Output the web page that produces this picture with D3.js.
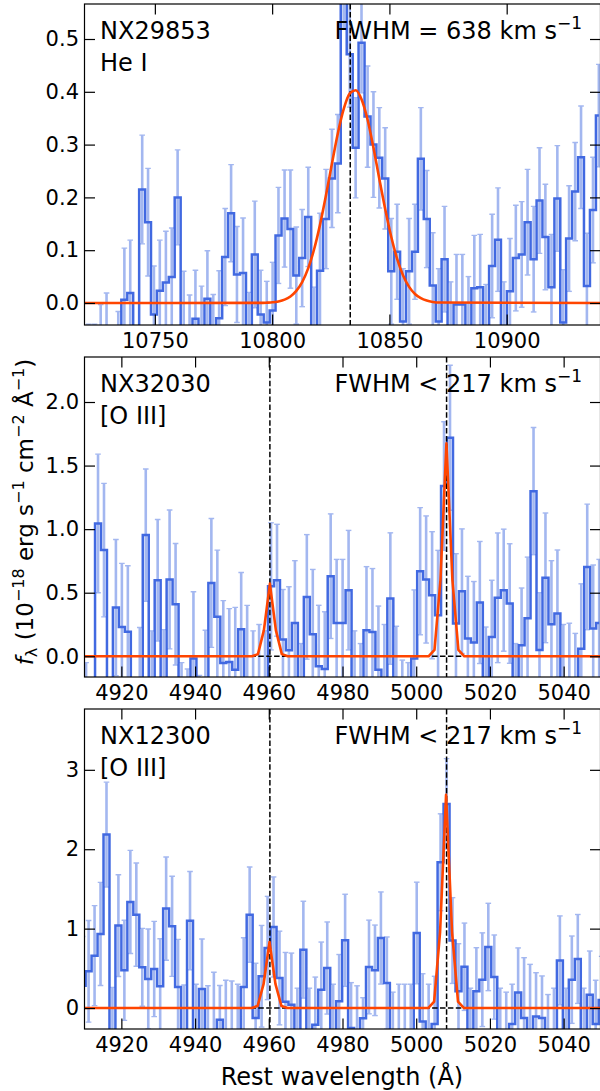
<!DOCTYPE html>
<html>
<head>
<meta charset="utf-8">
<title>spectra</title>
<script src="https://d3js.org/d3.v7.min.js"></script>
<style>
  body { margin: 0; background: #fff; }
  text { font-family: "DejaVu Sans", sans-serif; }
</style>
</head>
<body>
<svg width="600" height="1091" id="mainsvg"></svg>
<script>
// ---------- panel 1 : NX29853, He I ----------
const p1Wave = [
  10721.8, 10724.3, 10726.9, 10729.4, 10731.9, 10734.4, 10737.0, 10739.5, 10742.0, 10744.6,
  10747.1, 10749.6, 10752.1, 10754.7, 10757.2, 10759.7, 10762.3, 10764.8, 10767.3, 10769.9,
  10772.4, 10774.9, 10777.4, 10780.0, 10782.5, 10785.0, 10787.6, 10790.1, 10792.6, 10795.1,
  10797.7, 10800.2, 10802.7, 10805.3, 10807.8, 10810.3, 10812.8, 10815.4, 10817.9, 10820.4,
  10823.0, 10825.5, 10828.0, 10830.5, 10833.1, 10835.6, 10838.1, 10840.7, 10843.2, 10845.7,
  10848.2, 10850.8, 10853.3, 10855.8, 10858.4, 10860.9, 10863.4, 10865.9, 10868.5, 10871.0,
  10873.5, 10876.1, 10878.6, 10881.1, 10883.7, 10886.2, 10888.7, 10891.2, 10893.8, 10896.3,
  10898.8, 10901.4, 10903.9, 10906.4, 10908.9, 10911.5, 10914.0, 10916.5, 10919.1, 10921.6,
  10924.1, 10926.6, 10929.2, 10931.7, 10934.2, 10936.8, 10939.3];
const p1Flux = [
  -0.07, -0.07, -0.05, -0.05, -0.08, -0.06, 0.006, 0.019, -0.10, 0.215,
  0.153, -0.022, 0.023, 0.039, 0.049, 0.200, -0.05, -0.06, -0.030, -0.06,
  0.008, -0.07, -0.029, 0.087, 0.170, 0.054, 0.057, -0.06, 0.092, -0.022,
  -0.037, -0.014, 0.128, 0.160, 0.140, 0.052, 0.085, 0.163, -0.05, 0.061,
  0.159, 0.236, 0.264, 0.62, 0.471, 0.294, 0.493, 0.353, 0.300, 0.275,
  0.236, 0.060, 0.097, -0.035, 0.060, 0.097, 0.273, 0.159, 0.033, -0.035,
  0.083, -0.06, -0.003, -0.003, -0.05, 0.028, 0.030, -0.06, 0.070, 0.120,
  -0.06, 0.022, 0.085, 0.092, 0.153, 0.083, 0.194, 0.125, 0.030, 0.198,
  -0.037, 0.122, 0.211, 0.276, 0.032, 0.176, 0.355];
const p1Err = [
  0.03, 0.03, 0.047, 0.069, 0.03, 0.044, 0.098, 0.1, 0.05, 0.103,
  0.102, 0.092, 0.096, 0.097, 0.093, 0.09, 0.11, 0.075, 0.092, 0.092,
  0.091, 0.086, 0.09, 0.092, 0.092, 0.091, 0.104, 0.08, 0.101, 0.084,
  0.078, 0.091, 0.091, 0.092, 0.112, 0.092, 0.092, 0.094, 0.08, 0.109,
  0.094, 0.093, 0.093, 0.1, 0.1, 0.095, 0.095, 0.096, 0.1, 0.095,
  0.096, 0.1, 0.09, 0.1, 0.1, 0.09, 0.097, 0.092, 0.1, 0.1,
  0.1, 0.1, 0.095, 0.095, 0.1, 0.1, 0.1, 0.095, 0.098, 0.098,
  0.1, 0.1, 0.1, 0.1, 0.1, 0.1, 0.1, 0.1, 0.1, 0.1,
  0.1, 0.1, 0.093, 0.097, 0.1, 0.1, 0.097];
const p1ModelWave = [10720, 10795.1, 10797.7, 10800.2, 10802.7, 10805.3, 10807.8, 10810.3,
  10812.8, 10815.4, 10817.9, 10820.4, 10823.0, 10825.5, 10828.0, 10830.5, 10833.1, 10835.6,
  10838.1, 10840.7, 10843.2, 10845.7, 10848.2, 10850.8, 10853.3, 10855.8, 10858.4, 10860.9,
  10863.4, 10865.9, 10868.5, 10871.0, 10940];
const p1ModelFlux = [0, 0.0002, 0.0006, 0.0013, 0.003, 0.0063, 0.0124, 0.0228,
  0.0396, 0.0661, 0.1018, 0.148, 0.205, 0.264, 0.321, 0.367, 0.397, 0.403,
  0.386, 0.347, 0.294, 0.235, 0.178, 0.125, 0.0834, 0.0527, 0.0306, 0.0171,
  0.009, 0.0045, 0.002, 0.0009, 0];
const p1LineWave = [10833.3];
const p1XTicks = [10750, 10800, 10850, 10900];
const p1YTicks = [0, 0.1, 0.2, 0.3, 0.4, 0.5];

// ---------- panel 2 : NX32030, [O III] ----------
const p2Wave = [
  4910.43, 4912.05, 4913.67, 4915.29, 4916.90, 4918.52, 4920.14, 4921.76, 4923.38, 4925.00,
  4926.62, 4928.23, 4929.85, 4931.47, 4933.09, 4934.71, 4936.33, 4937.95, 4939.56, 4941.18,
  4942.80, 4944.42, 4946.04, 4947.66, 4949.28, 4950.90, 4952.51, 4954.13, 4955.75, 4957.37,
  4958.99, 4960.61, 4962.23, 4963.84, 4965.46, 4967.08, 4968.70, 4970.32, 4971.94, 4973.56,
  4975.18, 4976.79, 4978.41, 4980.03, 4981.65, 4983.27, 4984.89, 4986.51, 4988.13, 4989.74,
  4991.36, 4992.98, 4994.60, 4996.22, 4997.84, 4999.46, 5001.07, 5002.69, 5004.31, 5005.93,
  5007.55, 5009.17, 5010.79, 5012.41, 5014.02, 5015.64, 5017.26, 5018.88, 5020.50, 5022.12,
  5023.74, 5025.36, 5026.97, 5028.59, 5030.21, 5031.83, 5033.45, 5035.07, 5036.69, 5038.31,
  5039.92, 5041.54, 5043.16, 5044.78, 5046.40, 5048.02, 5049.64];
const p2Flux = [
  -0.2, -0.3, 1.045, 0.835, -0.35, 0.383, 0.231, 0.192, -0.35, -0.25,
  0.953, -0.3, 0.598, -0.3, 0.604, 0.409, -0.3, -0.3, -0.018, -0.3,
  -0.25, 0.577, 0.31, -0.052, -0.045, -0.105, 0.213, -0.2, -0.2, -0.2,
  -0.2, 0.55, 0.598, 0.131, 0.047, 0.262, -0.2, 0.467, 0.173, -0.079,
  -0.1, 0.63, 0.262, 0.262, 0.52, -0.2, -0.2, 0.205, 0.19, -0.105,
  -0.2, 0.454, -0.3, -0.3, -0.25, -0.018, 0.669, 0.604, 0.48, 0.323,
  1.339, 1.719, 0.257, 0.512, 0.139, 0.108, 0.423, -0.17, 0.152, 0.46,
  0.52, 0.415, -0.2, 0.087, 0.3, 1.299, 0.05, 0.617, 0.252, 0.336,
  -0.2, -0.2, -0.2, 0.06, 0.703, 0.218, 0.262];
const p2Err = [
  0.15, 0.1, 0.545, 0.525, 0.15, 0.536, 0.5, 0.52, 0.15, 0.476,
  0.52, 0.5, 0.478, 0.51, 0.546, 0.478, 0.25, 0.2, 0.525, 0.15,
  0.455, 0.507, 0.525, 0.49, 0.42, 0.49, 0.446, 0.6, 0.4, 0.45,
  0.4, 0.5, 0.44, 0.394, 0.5, 0.49, 0.3, 0.49, 0.51, 0.48,
  0.45, 0.49, 0.5, 0.5, 0.47, 0.4, 0.3, 0.5, 0.5, 0.5,
  0.45, 0.517, 0.536, 0.27, 0.2, 0.54, 0.5, 0.5, 0.5, 0.51,
  0.506, 0.57, 0.55, 0.49, 0.49, 0.48, 0.48, 0.4, 0.446, 0.51,
  0.48, 0.47, 0.3, 0.45, 0.48, 0.5, 0.45, 0.51, 0.5, 0.5,
  0.45, 0.46, 0.38, 0.51, 0.494, 0.5, 0.5];
const p2ModelWave = [4910, 4955.44, 4957.06, 4958.68, 4960.3, 4961.92, 4963.54, 4965.16,
  5003.34, 5004.96, 5006.58, 5008.2, 5009.82, 5011.44, 5013.06, 5050];
const p2ModelFlux = [0, 0, 0.017, 0.206, 0.572, 0.206, 0.017, 0,
  0, 0.05, 0.6, 1.675, 0.6, 0.05, 0, 0];
const p2YTicks = [0, 0.5, 1.0, 1.5, 2.0];

// ---------- panel 3 : NX12300, [O III] ----------
const p3Wave = [
  4909.49, 4911.11, 4912.73, 4914.35, 4915.97, 4917.58, 4919.20, 4920.82, 4922.44, 4924.06,
  4925.68, 4927.30, 4928.91, 4930.53, 4932.15, 4933.77, 4935.39, 4937.01, 4938.63, 4940.25,
  4941.86, 4943.48, 4945.10, 4946.72, 4948.34, 4949.96, 4951.58, 4953.19, 4954.81, 4956.43,
  4958.05, 4959.67, 4961.29, 4962.91, 4964.53, 4966.14, 4967.76, 4969.38, 4971.00, 4972.62,
  4974.24, 4975.86, 4977.47, 4979.09, 4980.71, 4982.33, 4983.95, 4985.57, 4987.19, 4988.81,
  4990.42, 4992.04, 4993.66, 4995.28, 4996.90, 4998.52, 5000.14, 5001.75, 5003.37, 5004.99,
  5006.61, 5008.23, 5009.85, 5011.47, 5013.09, 5014.70, 5016.32, 5017.94, 5019.56, 5021.18,
  5022.80, 5024.42, 5026.03, 5027.65, 5029.27, 5030.89, 5032.51, 5034.13, 5035.75, 5037.37,
  5038.98, 5040.60, 5042.22, 5043.84, 5045.46, 5047.08, 5048.69, 5050.31];
const p3Flux = [
  0.28, 0.462, 0.66, 0.933, 2.185, -0.35, 1.038, 0.475, 1.336, 1.176,
  0.513, 0.366, 0.492, 0.273, 1.252, 1.029, 0.265, -0.3, 1.10, -0.3,
  0.24, -0.35, -0.3, -0.147, -0.3, -0.3, -0.3, 0.265, 1.176, -0.126,
  0.4, 0.756, 1.021, 0.378, 0.08, 0.042, -0.3, 0.735, -0.3, -0.21,
  0.231, 0.504, -0.3, 0.084, 0.853, -0.25, -0.3, -0.13, 0.517, 0.475,
  0.882, 0.315, -0.35, -0.3, -0.3, -0.3, 0.945, -0.168, -0.3, -0.2,
  1.836, 2.571, 0.85, 0.21, 0.52, -0.3, 0.21, 0.357, 0.769, 0.39,
  -0.3, -0.3, -0.2, 0.197, -0.126, -0.3, -0.105, -0.126, -0.3, -0.3,
  0.6, -0.3, 0.357, 0.618, -0.3, 0.168, -0.2, 0.1];
const p3Err = [
  0.62, 0.64, 0.63, 0.65, 0.66, 0.61, 0.64, 0.63, 0.65, 0.65,
  0.49, 0.63, 0.6, 0.6, 0.65, 0.63, 0.6, 0.59, 0.62, 0.6,
  0.63, 0.63, 0.75, 0.43, 0.65, 0.64, 0.6, 0.62, 0.6, 0.69,
  0.64, 0.65, 0.63, 0.59, 0.62, 0.65, 0.55, 0.61, 0.55, 0.6,
  0.6, 0.58, 0.6, 0.59, 0.58, 0.57, 0.58, 0.26, 0.59, 0.57,
  0.58, 0.58, 0.55, 0.6, 0.6, 0.6, 0.64, 0.6, 0.6, 0.6,
  0.61, 0.57, 0.54, 0.6, 0.55, 0.55, 0.55, 0.59, 0.55, 0.53,
  0.55, 0.5, 0.5, 0.56, 0.76, 0.85, 0.55, 0.53, 0.47, 0.55,
  0.56, 0.55, 0.55, 0.56, 0.55, 0.55, 0.55, 0.55];
const p3ModelWave = [4910, 4955.34, 4956.96, 4958.58, 4960.2, 4961.82, 4963.44, 4965.06,
  5003.24, 5004.86, 5006.48, 5008.1, 5009.72, 5011.34, 5012.96, 5050];
const p3ModelFlux = [0, 0, 0.025, 0.3, 0.832, 0.3, 0.025, 0,
  0, 0.08, 0.96, 2.686, 0.96, 0.08, 0, 0];
const p3YTicks = [0, 1, 2, 3];

const oiiiLineWave = [4960.3, 5008.24];
const oiiiXTicks = [4920, 4940, 4960, 4980, 5000, 5020, 5040];

// ---------- layout ----------
let svg = d3.select('#mainsvg');
const xL = 84.5, xR = 600.5;
const stepColor = '#4169e1', errColor = '#a3b7f0', modelColor = '#ff4500';

const panels = [
  { top: 4, bottom: 325, xdom: [10720, 10940], ydom: [-0.0417, 0.5663],
    wave: p1Wave, flux: p1Flux, err: p1Err, mw: p1ModelWave, mf: p1ModelFlux,
    lines: p1LineWave, xt: p1XTicks, yt: p1YTicks, yfmt: d3.format('.1f'), smooth: true, zero: false,
    name: 'NX29853', ion: 'He I', fwhm: 'FWHM = 638 km s' },
  { top: 357, bottom: 677, xdom: [4910, 5050], ydom: [-0.163, 2.354],
    wave: p2Wave, flux: p2Flux, err: p2Err, mw: p2ModelWave, mf: p2ModelFlux,
    lines: oiiiLineWave, xt: oiiiXTicks, yt: p2YTicks, yfmt: d3.format('.1f'), smooth: false, zero: true,
    name: 'NX32030', ion: '[O III]', fwhm: 'FWHM < 217 km s' },
  { top: 709, bottom: 1029, xdom: [4910, 5050], ydom: [-0.264, 3.766],
    wave: p3Wave, flux: p3Flux, err: p3Err, mw: p3ModelWave, mf: p3ModelFlux,
    lines: oiiiLineWave, xt: oiiiXTicks, yt: p3YTicks, yfmt: d3.format('d'), smooth: false, zero: true,
    name: 'NX12300', ion: '[O III]', fwhm: 'FWHM < 217 km s' }
];

const defs = svg.append('defs');

panels.forEach((p, idx) => {
  const x = d3.scaleLinear().domain(p.xdom).range([xL, xR]);
  const y = d3.scaleLinear().domain(p.ydom).range([p.bottom, p.top]);

  defs.append('clipPath').attr('id', 'clip' + idx)
    .append('rect')
    .attr('x', xL).attr('y', p.top)
    .attr('width', xR - xL).attr('height', p.bottom - p.top);

  const g = svg.append('g').attr('clip-path', 'url(#clip' + idx + ')');
  const rows = p.wave.map((w, i) => ({ w: w, f: p.flux[i], e: p.err[i] }));

  // error bars
  const eb = g.append('g').attr('stroke', errColor).attr('fill', 'none');
  eb.selectAll('line.bar').data(rows).enter().append('line')
    .attr('class', 'bar')
    .attr('x1', d => x(d.w)).attr('x2', d => x(d.w))
    .attr('y1', d => y(d.f - d.e)).attr('y2', d => y(d.f + d.e))
    .attr('stroke-width', 2.6);
  ['lo', 'hi'].forEach(s => {
    eb.selectAll('line.' + s).data(rows).enter().append('line')
      .attr('class', s)
      .attr('x1', d => x(d.w) - 2.8).attr('x2', d => x(d.w) + 2.8)
      .attr('y1', d => y(s === 'hi' ? d.f + d.e : d.f - d.e))
      .attr('y2', d => y(s === 'hi' ? d.f + d.e : d.f - d.e))
      .attr('stroke-width', 1.4);
  });

  // spectrum (steps-mid)
  const step = d3.line().x(d => x(d.w)).y(d => y(d.f)).curve(d3.curveStep);
  g.append('path').datum(rows)
    .attr('d', step)
    .attr('fill', 'none')
    .attr('stroke', stepColor)
    .attr('stroke-width', 2.5);

  // zero level and line centres
  if (p.zero) {
    g.append('line')
      .attr('x1', xL).attr('x2', xR)
      .attr('y1', y(0)).attr('y2', y(0))
      .attr('stroke', '#000').attr('stroke-width', 1.5)
      .attr('stroke-dasharray', '5.5,2.4');
  }
  g.selectAll('line.cen').data(p.lines).enter().append('line')
    .attr('class', 'cen')
    .attr('x1', d => x(d)).attr('x2', d => x(d))
    .attr('y1', p.top).attr('y2', p.bottom)
    .attr('stroke', '#000').attr('stroke-width', 1.5)
    .attr('stroke-dasharray', '5.5,2.4');

  // gaussian model
  const model = p.mw.map((w, i) => ({ w: w, f: p.mf[i] }));
  const mline = d3.line().x(d => x(d.w)).y(d => y(d.f))
    .curve(p.smooth ? d3.curveMonotoneX : d3.curveLinear);
  g.append('path').datum(model)
    .attr('d', mline)
    .attr('fill', 'none')
    .attr('stroke', modelColor)
    .attr('stroke-width', 2.6)
    .attr('stroke-linejoin', 'round');

  // axes, ticks inward on all sides
  const tl = -10.5;
  const axB = svg.append('g').attr('transform', `translate(0,${p.bottom})`)
    .call(d3.axisBottom(x).tickValues(p.xt).tickFormat(d3.format('d'))
      .tickSize(tl).tickPadding(8));
  const axT = svg.append('g').attr('transform', `translate(0,${p.top})`)
    .call(d3.axisTop(x).tickValues(p.xt).tickFormat('').tickSize(tl));
  const axLft = svg.append('g').attr('transform', `translate(${xL},0)`)
    .call(d3.axisLeft(y).tickValues(p.yt).tickFormat(p.yfmt)
      .tickSize(tl).tickPadding(5.5));
  const axRt = svg.append('g').attr('transform', `translate(${xR},0)`)
    .call(d3.axisRight(y).tickValues(p.yt).tickFormat('').tickSize(tl));
  [axB, axT, axLft, axRt].forEach(a => {
    a.select('.domain').remove();
    a.selectAll('.tick line').attr('stroke', '#000').attr('stroke-width', 1.2);
    a.attr('font-family', '"DejaVu Sans", sans-serif').attr('font-size', 21);
    a.selectAll('.tick text').attr('fill', '#000');
  });

  svg.append('rect')
    .attr('x', xL).attr('y', p.top)
    .attr('width', xR - xL).attr('height', p.bottom - p.top)
    .attr('fill', 'none').attr('stroke', '#000').attr('stroke-width', 1.2);

  // labels inside the panel
  svg.append('text').attr('x', 100).attr('y', p.top + 35)
    .attr('font-size', 24).text(p.name);
  svg.append('text').attr('x', 100).attr('y', p.top + 67)
    .attr('font-size', 24).text(p.ion);
  const ft = svg.append('text').attr('x', 582).attr('y', p.top + 35)
    .attr('font-size', 24).attr('text-anchor', 'end');
  ft.append('tspan').text(p.fwhm);
  ft.append('tspan').attr('font-size', 17).attr('dy', -10).text('\u22121');
});

// axis titles
svg.append('text')
  .attr('x', 342).attr('y', 1085)
  .attr('text-anchor', 'middle')
  .attr('font-size', 24)
  .text('Rest wavelength (\u00c5)');

const yl = svg.append('text')
  .attr('transform', 'translate(33,512) rotate(-90)')
  .attr('text-anchor', 'middle')
  .attr('font-size', 23);
yl.append('tspan').attr('font-style', 'italic').text('f');
yl.append('tspan').attr('font-size', 16).attr('baseline-shift', -4).text('\u03bb');
yl.append('tspan').text(' (10');
yl.append('tspan').attr('font-size', 16).attr('baseline-shift', 9).text('\u221218');
yl.append('tspan').text(' erg s');
yl.append('tspan').attr('font-size', 16).attr('baseline-shift', 9).text('\u22121');
yl.append('tspan').text(' cm');
yl.append('tspan').attr('font-size', 16).attr('baseline-shift', 9).text('\u22122');
yl.append('tspan').text(' \u00c5');
yl.append('tspan').attr('font-size', 16).attr('baseline-shift', 9).text('\u22121');
yl.append('tspan').text(')');
</script>
</body>
</html>
